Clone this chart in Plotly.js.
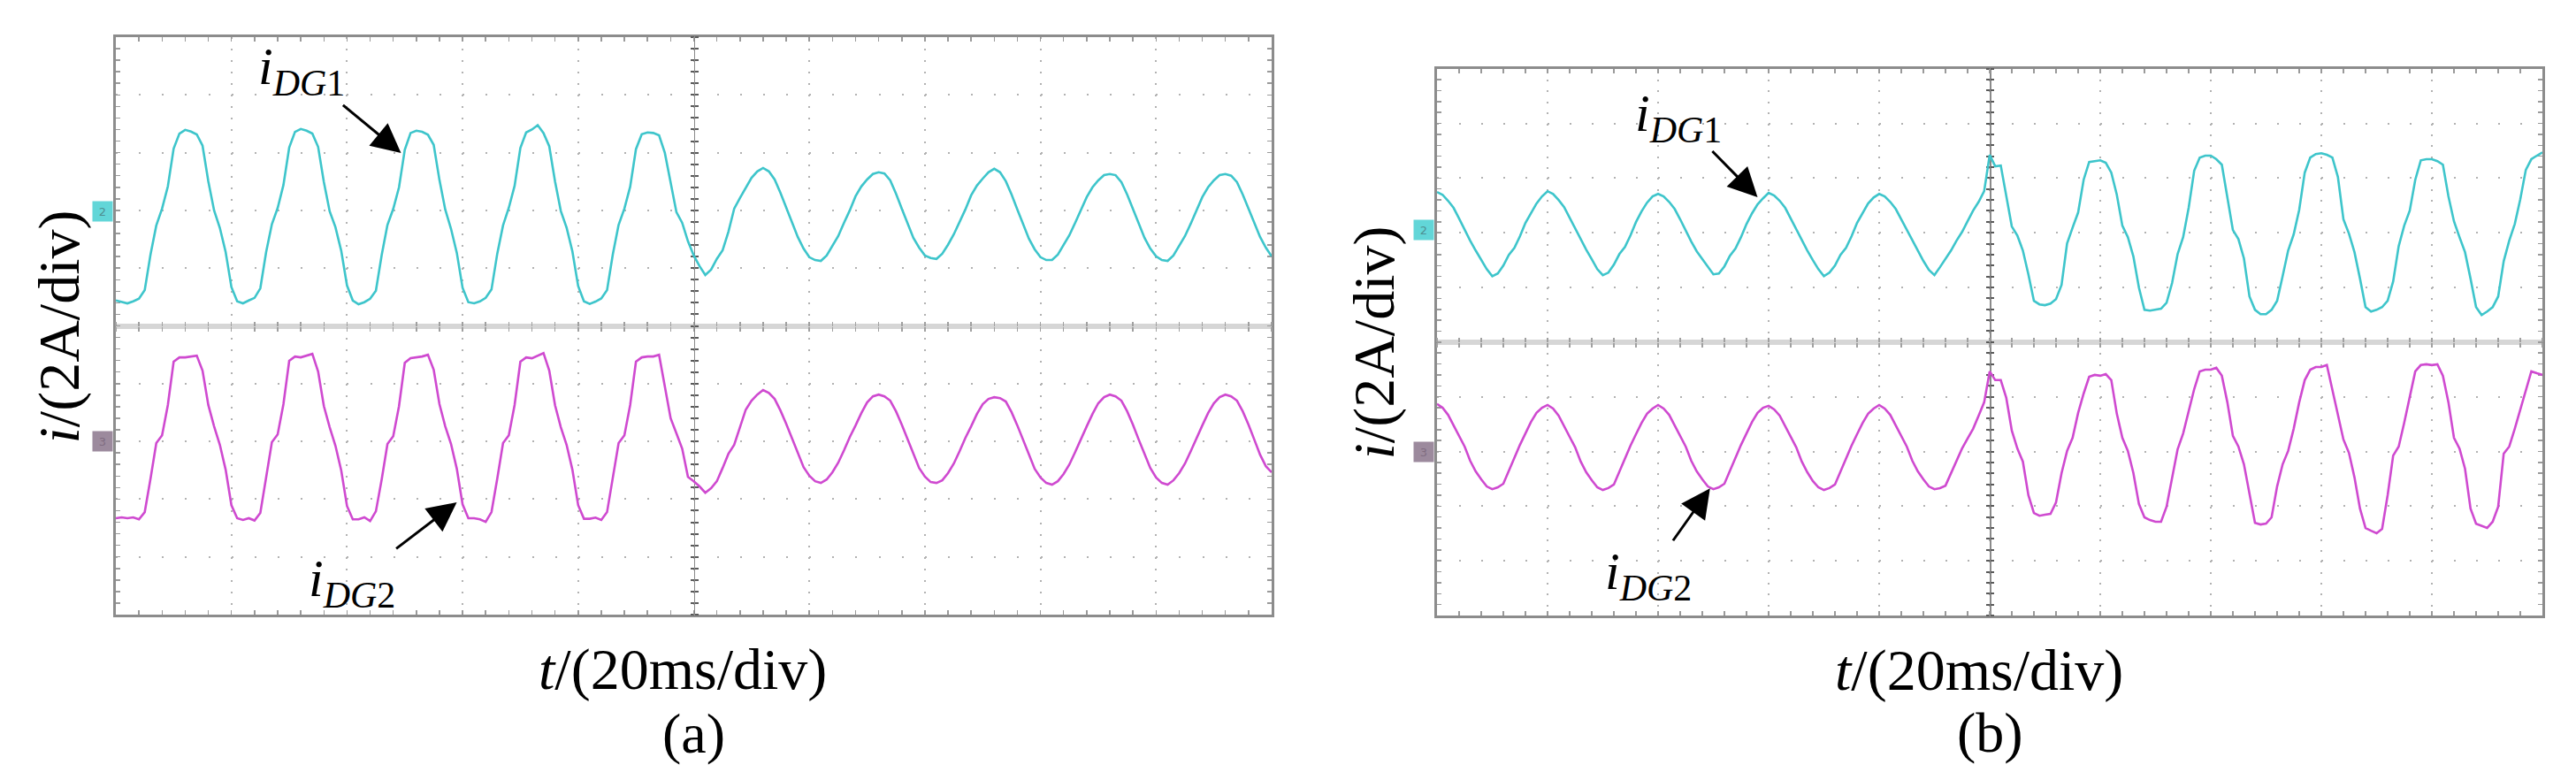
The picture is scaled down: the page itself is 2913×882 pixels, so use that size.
<!DOCTYPE html>
<html>
<head>
<meta charset="utf-8">
<script src="https://cdn.plot.ly/plotly-3.0.1.min.js"></script>
<style>
  html, body { margin: 0; padding: 0; background: #ffffff; }
  #chart { width: 2913px; height: 882px; }
</style>
</head>
<body>
<div id="chart"></div>
<script>
// ---------------- DATA ----------------
// Sampling interval of the arrays below (ms); 10 div x 20 ms/div = 200 ms
const SAMPLE_MS = 1;
const TIME_SPAN_MS = 200;
const MS_PER_DIV = 20;
const A_PER_DIV = 2;

// Channel ground markers (A, relative to screen centre)
const CH2_OFFSET_A = 4;    // cyan channel ground: +2 div
const CH3_OFFSET_A = -4;   // magenta channel ground: -2 div

// (a) i_DG1, current in A relative to its channel ground
const iDG1_a = [
  -3.12, -3.18,
  -3.22, -3.15, -3.06, -2.76, -1.53, -0.52, 0.06, 0.83, 2.14, 2.66, 2.79, 2.73, 2.63, 2.24, 1.01, 0.00, -0.61, -1.44, -2.66, -3.15,
  -3.22, -3.12, -3.03, -2.70, -1.45, -0.48, 0.08, 0.88, 2.18, 2.72, 2.82, 2.76, 2.66, 2.20, 0.98, -0.03, -0.58, -1.40, -2.60, -3.12,
  -3.25, -3.18, -3.06, -2.78, -1.55, -0.50, 0.05, 0.80, 2.10, 2.68, 2.76, 2.72, 2.62, 2.27, 1.05, 0.03, -0.64, -1.47, -2.68, -3.18,
  -3.22, -3.15, -3.03, -2.74, -1.50, -0.52, 0.09, 0.85, 2.16, 2.70, 2.80, 2.95, 2.68, 2.22, 1.00, -0.02, -0.60, -1.42, -2.62, -3.15,
  -3.24, -3.16, -3.05, -2.76, -1.52, -0.50, 0.06, 0.82, 2.12, 2.64, 2.70, 2.68, 2.60,
  1.99, 0.95, -0.06, -0.43, -1.07, -1.56, -1.93, -2.24, -2.05, -1.68, -1.38, -0.74, 0.06, 0.43, 0.77, 1.13, 1.35,
  1.47, 1.35, 1.07, 0.61, 0.09, -0.43, -0.92, -1.32, -1.62, -1.72, -1.75, -1.56, -1.23, -0.89, -0.43, 0.00, 0.49, 0.83, 1.07, 1.26,
  1.32, 1.28, 1.04, 0.58, 0.06, -0.46, -0.95, -1.29, -1.56, -1.65, -1.68, -1.50, -1.19, -0.83, -0.40, 0.03, 0.52, 0.86, 1.10, 1.32,
  1.44, 1.32, 1.01, 0.55, 0.03, -0.49, -0.98, -1.35, -1.62, -1.72, -1.72, -1.53, -1.20, -0.86, -0.43, 0.00, 0.46, 0.80, 1.04, 1.22,
  1.26, 1.22, 0.98, 0.55, 0.06, -0.46, -0.95, -1.32, -1.59, -1.72, -1.75, -1.56, -1.23, -0.89, -0.46, 0.00, 0.46, 0.80, 1.04, 1.22,
  1.26, 1.20, 0.98, 0.55, 0.06, -0.46, -0.92, -1.29, -1.59
];

// (a) i_DG2
const iDG2_a = [
  -2.66, -2.63,
  -2.66, -2.63, -2.70, -2.45, -1.29, -0.06, 0.21, 1.26, 2.76, 2.91, 2.91, 2.94, 2.97, 2.45, 1.26, 0.52, -0.12, -0.98, -2.21, -2.66,
  -2.72, -2.66, -2.74, -2.48, -1.25, -0.03, 0.24, 1.29, 2.79, 2.94, 2.91, 2.97, 3.03, 2.42, 1.22, 0.49, -0.15, -1.01, -2.24, -2.70,
  -2.70, -2.63, -2.76, -2.42, -1.32, -0.09, 0.18, 1.22, 2.72, 2.88, 2.91, 2.94, 3.00, 2.48, 1.29, 0.52, -0.09, -0.95, -2.18, -2.66,
  -2.66, -2.70, -2.79, -2.45, -1.29, -0.06, 0.21, 1.26, 2.76, 2.91, 2.88, 2.97, 3.06, 2.45, 1.25, 0.49, -0.12, -0.98, -2.21, -2.68,
  -2.68, -2.64, -2.72, -2.45, -1.29, -0.06, 0.21, 1.26, 2.76, 2.91, 2.94, 2.94, 3.00,
  1.96, 0.80, 0.28, -0.25, -1.23, -1.38, -1.56, -1.78, -1.62, -1.38, -0.92, -0.43, -0.12, 0.49, 1.10, 1.41, 1.62,
  1.78, 1.68, 1.47, 1.07, 0.61, 0.09, -0.43, -0.89, -1.19, -1.38, -1.44, -1.32, -1.07, -0.74, -0.31, 0.15, 0.55, 0.98, 1.35, 1.56,
  1.62, 1.56, 1.41, 1.04, 0.58, 0.06, -0.46, -0.92, -1.22, -1.41, -1.44, -1.35, -1.10, -0.77, -0.34, 0.12, 0.52, 0.95, 1.29, 1.47,
  1.53, 1.50, 1.38, 1.01, 0.55, 0.03, -0.49, -0.95, -1.25, -1.44, -1.50, -1.38, -1.13, -0.80, -0.37, 0.09, 0.52, 0.95, 1.32, 1.53,
  1.62, 1.56, 1.41, 1.04, 0.58, 0.06, -0.46, -0.92, -1.25, -1.44, -1.50, -1.35, -1.10, -0.77, -0.34, 0.12, 0.55, 0.98, 1.32, 1.53,
  1.62, 1.56, 1.41, 1.04, 0.58, 0.06, -0.46, -0.86, -1.07
];

// (b) i_DG1
const iDG1_b = [
  1.49, 1.39, 1.17, 0.91, 0.52, 0.10, -0.29, -0.65, -1.00, -1.33, -1.59, -1.49, -1.20, -0.81, -0.55, -0.13, 0.36, 0.74, 1.07, 1.33,
  1.52, 1.42, 1.20, 0.94, 0.55, 0.13, -0.26, -0.62, -0.97, -1.33, -1.55, -1.46, -1.17, -0.78, -0.52, -0.10, 0.39, 0.78, 1.10, 1.33,
  1.42, 1.33, 1.13, 0.87, 0.49, 0.06, -0.32, -0.68, -0.97, -1.26, -1.52, -1.49, -1.23, -0.84, -0.58, -0.16, 0.32, 0.71, 1.04, 1.26,
  1.46, 1.36, 1.17, 0.91, 0.52, 0.10, -0.29, -0.65, -1.00, -1.33, -1.59, -1.46, -1.20, -0.81, -0.55, -0.13, 0.36, 0.74, 1.07, 1.29,
  1.42, 1.33, 1.13, 0.87, 0.49, 0.06, -0.32, -0.68, -1.03, -1.36,
  -1.55, -1.26, -0.97, -0.65, -0.29, 0.03, 0.42, 0.81, 1.13, 1.52, 2.85, 2.43, 2.46, 1.33, 0.23, -0.10, -0.65, -1.52, -2.49, -2.62,
  -2.65, -2.59, -2.43, -1.91, -0.39, 0.19, 0.74, 1.94, 2.59, 2.62,
  2.65, 2.56, 2.20, 1.39, 0.26, -0.16, -0.87, -2.01, -2.82, -2.85, -2.82, -2.78, -2.56, -1.84, -0.78, -0.16, 0.91, 2.27, 2.75, 2.82,
  2.82, 2.69, 2.49, 1.33, 0.10, -0.23, -0.94, -2.33, -2.82, -2.98, -2.98, -2.82, -2.49, -1.59, -0.65, -0.06, 0.84, 2.20, 2.75, 2.88,
  2.91, 2.85, 2.75, 2.04, 0.49, -0.03, -0.71, -1.68, -2.72, -2.88, -2.82, -2.72, -2.49, -1.78, -0.49, 0.26, 0.81, 1.94, 2.65, 2.69,
  2.69, 2.62, 2.49, 1.33, 0.42, -0.16, -0.71, -1.68, -2.72, -3.01, -2.88, -2.72, -2.33, -1.04, -0.29, 0.32, 1.23, 2.30, 2.69, 2.82, 2.94
];

// (b) i_DG2
const iDG2_b = [
  1.74, 1.60, 1.34, 0.95, 0.57, 0.18, -0.34, -0.73, -1.02, -1.28, -1.38, -1.31, -1.18, -0.70, -0.21, 0.24, 0.66, 1.08, 1.41, 1.60,
  1.70, 1.57, 1.31, 0.92, 0.53, 0.15, -0.37, -0.76, -1.05, -1.31, -1.41, -1.34, -1.21, -0.73, -0.24, 0.21, 0.63, 1.04, 1.38, 1.57,
  1.70, 1.57, 1.34, 0.95, 0.57, 0.18, -0.34, -0.73, -1.02, -1.28, -1.38, -1.31, -1.18, -0.70, -0.21, 0.24, 0.66, 1.08, 1.41, 1.60,
  1.67, 1.54, 1.31, 0.92, 0.53, 0.15, -0.37, -0.76, -1.08, -1.31, -1.41, -1.34, -1.21, -0.73, -0.24, 0.21, 0.63, 1.04, 1.38, 1.57,
  1.70, 1.57, 1.34, 0.95, 0.57, 0.18, -0.34, -0.73, -1.02, -1.28,
  -1.38, -1.34, -1.25, -0.79, -0.31, 0.11, 0.47, 0.83, 1.31, 1.80, 2.93, 2.61, 2.61, 1.96, 0.76, 0.11, -0.37, -1.60, -2.25, -2.35,
  -2.31, -2.28, -1.86, -0.79, 0.02, 0.50, 1.41, 2.12, 2.73, 2.80,
  2.77, 2.83, 2.61, 1.38, 0.50, 0.02, -0.79, -1.92, -2.41, -2.51, -2.57, -2.57, -2.02, -0.95, 0.08, 0.66, 1.47, 2.28, 2.93, 2.99,
  2.99, 3.06, 2.77, 1.80, 0.57, 0.18, -0.47, -1.60, -2.61, -2.67, -2.64, -2.41, -1.28, -0.47, 0.02, 0.83, 1.80, 2.61, 2.99, 3.09,
  3.09, 3.16, 2.28, 1.31, 0.44, -0.05, -0.95, -2.09, -2.80, -2.90, -2.99, -2.83, -1.60, -0.15, 0.18, 1.05, 1.96, 2.93, 3.16, 3.19,
  3.16, 3.19, 2.77, 1.80, 0.50, 0.11, -0.63, -2.09, -2.64, -2.73, -2.80, -2.57, -2.02, -0.08, 0.18, 0.83, 1.54, 2.28, 2.93, 2.86, 2.80
];

// Text
const LABEL_Y = '<i>i</i>/(2A/div)';
const LABEL_X = '<i>t</i>/(20ms/div)';
const LABEL_DG1 = '<i>i</i><sub><i>DG</i>1</sub>';
const LABEL_DG2 = '<i>i</i><sub><i>DG</i>2</sub>';
const PANEL_TAGS = ['(a)', '(b)'];

// ---------------- LAYOUT ----------------
const W = 2913, H = 882;
const FONT = 'Liberation Serif, "Times New Roman", serif';
const CYAN = '#3ec5cb';
const MAGENTA = '#cf4ad0';

// plot-area boxes in page pixels
const PANELS = [
  { l: 131, r: 1438, t: 42, b: 695 },
  { l: 1625, r: 2875, t: 77.7, b: 696 }
];
PANELS.forEach(p => { p.divW = (p.r - p.l) / 10; p.divH = (p.b - p.t) / 10; });

const fx = px => px / W;
const fy = py => 1 - py / H;
const Y_HALF = 5 * A_PER_DIV;

const time = iDG1_a.map((_, i) => i * SAMPLE_MS);

const layout = {
  width: W, height: H,
  margin: { l: 0, r: 0, t: 0, b: 0, pad: 0 },
  paper_bgcolor: '#ffffff',
  plot_bgcolor: '#ffffff',
  showlegend: false,
  font: { family: FONT, color: '#000000' },
  annotations: [],
  hovermode: false
};

const traces = [];

function addPanel(k, p, sigDG1, sigDG2, arrows, labels) {
  const xId = k === 0 ? 'x' : 'x2';
  const yId = k === 0 ? 'y' : 'y2';
  const xKey = k === 0 ? 'xaxis' : 'xaxis2';
  const yKey = k === 0 ? 'yaxis' : 'yaxis2';
  const base = k === 0 ? 3 : 5;   // ids of centre-line axes
  const xdom = [fx(p.l), fx(p.r)];
  const ydom = [fy(p.b), fy(p.t)];
  const cx = fx((p.l + p.r) / 2);
  const cy = fy((p.t + p.b) / 2);

  layout[xKey] = {
    domain: xdom, anchor: yId, range: [0, TIME_SPAN_MS], autorange: false,
    tick0: 0, dtick: MS_PER_DIV,
    showgrid: true, gridcolor: '#b2b2b2', gridwidth: 2,
    griddash: '2px,' + (p.divH / 5 - 2).toFixed(2) + 'px',
    showline: true, linecolor: '#8c8c8c', linewidth: 3, mirror: 'allticks',
    ticks: 'inside', ticklen: 5, tickwidth: 1.5, tickcolor: '#9a9a9a',
    minor: { tick0: 0, dtick: MS_PER_DIV / 5, ticks: 'inside', ticklen: 5, tickwidth: 1.5, tickcolor: '#9a9a9a', showgrid: false },
    showticklabels: false, zeroline: false, layer: 'below traces', fixedrange: true
  };
  layout[yKey] = {
    domain: ydom, anchor: xId, range: [-Y_HALF, Y_HALF], autorange: false,
    tick0: 0, dtick: A_PER_DIV,
    showgrid: true, gridcolor: '#b2b2b2', gridwidth: 2,
    griddash: '2px,' + (p.divW / 5 - 2).toFixed(2) + 'px',
    showline: true, linecolor: '#8c8c8c', linewidth: 3, mirror: 'allticks',
    ticks: 'inside', ticklen: 5, tickwidth: 1.5, tickcolor: '#9a9a9a',
    minor: { tick0: 0, dtick: A_PER_DIV / 5, ticks: 'inside', ticklen: 5, tickwidth: 1.5, tickcolor: '#9a9a9a', showgrid: false },
    showticklabels: false,
    zeroline: true, zerolinecolor: '#d6d6d6', zerolinewidth: 6,
    layer: 'below traces', fixedrange: true
  };

  // centre horizontal line ticks (both sides)
  const cAxX = (side) => ({
    overlaying: xId, anchor: 'free', position: cy, side: side,
    range: [0, TIME_SPAN_MS], autorange: false, tick0: 0, dtick: MS_PER_DIV / 5,
    showgrid: false, zeroline: false, showline: false,
    ticks: 'outside', ticklen: 5, tickwidth: 1.5, tickcolor: '#a0a0a0',
    showticklabels: false, layer: 'below traces', fixedrange: true
  });
  // centre vertical line with ticks (both sides)
  const cAxY = (side, line) => ({
    overlaying: yId, anchor: 'free', position: cx, side: side,
    range: [-Y_HALF, Y_HALF], autorange: false, tick0: 0, dtick: A_PER_DIV / 5,
    showgrid: false, zeroline: false,
    showline: line, linecolor: '#8a8a8a', linewidth: 1.5,
    ticks: 'outside', ticklen: 4, tickwidth: 2, tickcolor: '#5a5a5a',
    showticklabels: false, layer: 'below traces', fixedrange: true
  });
  layout['xaxis' + base] = cAxX('bottom');
  layout['xaxis' + (base + 1)] = cAxX('top');
  layout['yaxis' + base] = cAxY('left', true);
  layout['yaxis' + (base + 1)] = cAxY('right', false);

  // empty traces so the centre-line axes get drawn
  traces.push({ x: [], y: [], xaxis: 'x' + base, yaxis: yId, type: 'scatter', mode: 'lines', showlegend: false, hoverinfo: 'skip' });
  traces.push({ x: [], y: [], xaxis: 'x' + (base + 1), yaxis: yId, type: 'scatter', mode: 'lines', showlegend: false, hoverinfo: 'skip' });
  traces.push({ x: [], y: [], xaxis: xId, yaxis: 'y' + base, type: 'scatter', mode: 'lines', showlegend: false, hoverinfo: 'skip' });
  traces.push({ x: [], y: [], xaxis: xId, yaxis: 'y' + (base + 1), type: 'scatter', mode: 'lines', showlegend: false, hoverinfo: 'skip' });

  // waveforms
  traces.push({
    x: time, y: sigDG1.map(v => v + CH2_OFFSET_A), xaxis: xId, yaxis: yId,
    type: 'scatter', mode: 'lines', line: { color: CYAN, width: 2.6 }, name: 'iDG1', hoverinfo: 'skip'
  });
  traces.push({
    x: time, y: sigDG2.map(v => v + CH3_OFFSET_A), xaxis: xId, yaxis: yId,
    type: 'scatter', mode: 'lines', line: { color: MAGENTA, width: 2.6 }, name: 'iDG2', hoverinfo: 'skip'
  });

  // arrows + labels
  arrows.forEach(a => {
    layout.annotations.push({
      xref: xId, yref: yId, x: a.x, y: a.y, ax: a.ax, ay: a.ay,
      text: a.text, showarrow: true, arrowhead: 2, arrowsize: 2.2, arrowwidth: 3,
      arrowcolor: '#000000', standoff: 0,
      font: { family: FONT, size: 60, color: '#000000' }
    });
  });

  // axis labels and panel tag
  layout.annotations.push({
    xref: 'paper', yref: 'paper', x: fx(labels.yx), y: fy(labels.yy), textangle: -90,
    xanchor: 'center', yanchor: 'middle', showarrow: false, text: LABEL_Y,
    font: { family: FONT, size: 66, color: '#000000' }
  });
  layout.annotations.push({
    xref: 'paper', yref: 'paper', x: fx(labels.xx), y: fy(labels.xy),
    xanchor: 'center', yanchor: 'middle', showarrow: false, text: LABEL_X,
    font: { family: FONT, size: 66, color: '#000000' }
  });
  layout.annotations.push({
    xref: 'paper', yref: 'paper', x: fx(labels.tx), y: fy(labels.ty),
    xanchor: 'center', yanchor: 'middle', showarrow: false, text: PANEL_TAGS[k],
    font: { family: FONT, size: 64, color: '#000000' }
  });

  // channel ground markers
  layout.annotations.push({
    xref: 'paper', yref: 'paper', x: fx(p.l - 15), y: fy(labels.m2), xanchor: 'center', yanchor: 'middle',
    showarrow: false, text: '2', bgcolor: '#62d6d8', borderpad: 1, width: 20, height: 20,
    font: { family: 'DejaVu Sans', size: 13, color: '#4f8f91' }
  });
  layout.annotations.push({
    xref: 'paper', yref: 'paper', x: fx(p.l - 15), y: fy(labels.m3), xanchor: 'center', yanchor: 'middle',
    showarrow: false, text: '3', bgcolor: '#9c8a9d', borderpad: 1, width: 20, height: 20,
    font: { family: 'DejaVu Sans', size: 13, color: '#806d81' }
  });
}

addPanel(0, PANELS[0], iDG1_a, iDG2_a,
  [
    { x: 49.35, y: 5.99, ax: -113, ay: -93, text: LABEL_DG1 },
    { x: 59.0, y: -6.11, ax: -119, ay: 91, text: LABEL_DG2 }
  ],
  { yx: 66.5, yy: 370, xx: 772, xy: 757, tx: 784, ty: 829, m2: 239, m3: 499 });

addPanel(1, PANELS[1], iDG1_b, iDG2_b,
  [
    { x: 58.0, y: 5.30, ax: -89.5, ay: -91, text: LABEL_DG1 },
    { x: 49.4, y: -5.35, ax: -69.5, ay: 98, text: LABEL_DG2 }
  ],
  { yx: 1553.5, yy: 387, xx: 2238, xy: 757.5, tx: 2250, ty: 828.5, m2: 260, m3: 511 });

Plotly.newPlot('chart', traces, layout, { displayModeBar: false, staticPlot: true });
</script>
</body>
</html>
